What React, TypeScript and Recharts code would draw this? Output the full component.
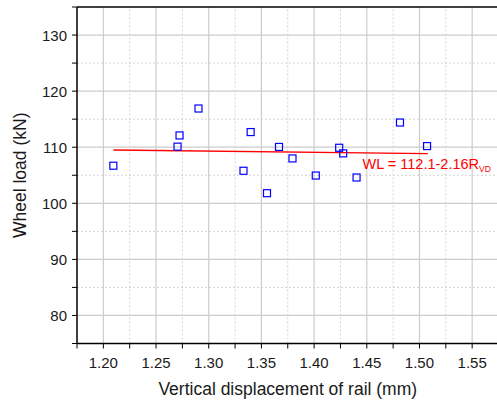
import React from 'react';
import { ComposedChart, Scatter, XAxis, YAxis, ReferenceLine, ReferenceDot } from 'recharts';

const displacement = [1.2095, 1.2704, 1.2723, 1.2903, 1.333, 1.3398, 1.3553, 1.3667, 1.3795, 1.4016, 1.4238, 1.4276, 1.4403, 1.4815, 1.5072];
const wheelLoad = [106.7, 110.1, 112.1, 116.9, 105.8, 112.7, 101.8, 110.05, 108.0, 104.95, 109.9, 108.9, 104.6, 114.4, 110.2];

const fitX = [1.2095, 1.508];
const fitY = [109.5, 108.85];

const xMajor = [1.2, 1.25, 1.3, 1.35, 1.4, 1.45, 1.5, 1.55];
const xMinor = [1.225, 1.275, 1.325, 1.375, 1.425, 1.475, 1.525, 1.575];
const yMajor = [80, 90, 100, 110, 120, 130];
const yMinor = [85, 95, 105, 115, 125];

const points = displacement.map((x, i) => ({ x, y: wheelLoad[i] }));
const fit = fitX.map((x, i) => ({ x, y: fitY[i] }));
const xTicks = [1.175, ...xMajor.flatMap((v, i) => [v, xMinor[i]])];
const yTicks = [75, ...yMajor.flatMap((v, i) => (i < yMinor.length ? [v, yMinor[i]] : [v])), 135];

const font = '"Liberation Sans", Arial, sans-serif';
const textColor = '#1a1a1a';

const isMajor = (v: number, list: number[]) => list.some((m) => Math.abs(m - v) < 1e-6);

const XTick = (props: any) => {
  const { x, y, payload } = props;
  if (!isMajor(payload.value, xMajor)) return <g />;
  return (
    <text x={x} y={y + 17} textAnchor="middle" fontSize={15} fontFamily={font} fill={textColor}>
      {payload.value.toFixed(2)}
    </text>
  );
};

const YTick = (props: any) => {
  const { x, y, payload } = props;
  if (!isMajor(payload.value, yMajor)) return <g />;
  return (
    <text x={x - 3} y={y + 5.5} textAnchor="end" fontSize={15} fontFamily={font} fill={textColor}>
      {payload.value}
    </text>
  );
};

const Square = (props: any) => {
  const { cx, cy } = props;
  if (cx == null || cy == null) return <g />;
  return <rect x={cx - 3.5} y={cy - 3.5} width={7} height={7} fill="none" stroke="#0000ff" strokeWidth={1.2} />;
};

const Equation = (props: any) => {
  const { cx, cy } = props;
  return (
    <text x={cx} y={cy} fontSize={14.5} fontFamily={font} fill="#ff0000">
      WL = 112.1-2.16R
      <tspan fontSize={8.5} dy={3}>VD</tspan>
    </text>
  );
};

export default function App() {
  return (
    <div style={{ position: 'absolute', left: 0, top: 0, width: 497, height: 401, overflow: 'hidden', background: '#fff' }}>
      <ComposedChart width={510} height={401} margin={{ top: 7, right: 11.5, left: 0, bottom: 27.5 }}>
        {xMinor.map((v) => (
          <ReferenceLine key={'xm' + v} x={v} stroke="#d4d4d4" strokeDasharray="2 2" />
        ))}
        {yMinor.map((v) => (
          <ReferenceLine key={'ym' + v} y={v} stroke="#d4d4d4" strokeDasharray="2 2" />
        ))}
        {xMajor.map((v) => (
          <ReferenceLine key={'xM' + v} x={v} stroke="#cccccc" strokeWidth={1.2} />
        ))}
        {yMajor.map((v) => (
          <ReferenceLine key={'yM' + v} y={v} stroke="#cccccc" strokeWidth={1.2} />
        ))}
        <ReferenceLine y={135} stroke="#000" strokeWidth={1.5} />
        <XAxis
          type="number"
          dataKey="x"
          domain={[1.175, 1.575]}
          ticks={xTicks}
          interval={0}
          allowDataOverflow
          height={30}
          tickSize={5}
          stroke="#000"
          axisLine={{ stroke: '#000', strokeWidth: 1.5 }}
          tickLine={{ stroke: '#000' }}
          tick={<XTick />}
          label={{ value: 'Vertical displacement of rail (mm)', position: 'insideBottom', offset: -21, fontSize: 17.5, fontFamily: font, fill: textColor }}
        />
        <YAxis
          type="number"
          dataKey="y"
          domain={[75, 135]}
          ticks={yTicks}
          interval={0}
          allowDataOverflow
          width={77}
          tickSize={5}
          axisLine={{ stroke: '#000', strokeWidth: 1.5 }}
          tickLine={{ stroke: '#000' }}
          tick={<YTick />}
          label={{ value: 'Wheel load (kN)', angle: -90, position: 'insideLeft', offset: 20, fontSize: 17.5, fontFamily: font, fill: textColor, style: { textAnchor: 'middle' } }}
        />
        <Scatter data={fit} line={{ stroke: '#ff0000', strokeWidth: 1.3 }} shape={() => <g />} isAnimationActive={false} />
        <Scatter data={points} shape={<Square />} isAnimationActive={false} />
        <ReferenceDot x={1.446} y={106.1} r={0} shape={<Equation />} />
      </ComposedChart>
    </div>
  );
}
